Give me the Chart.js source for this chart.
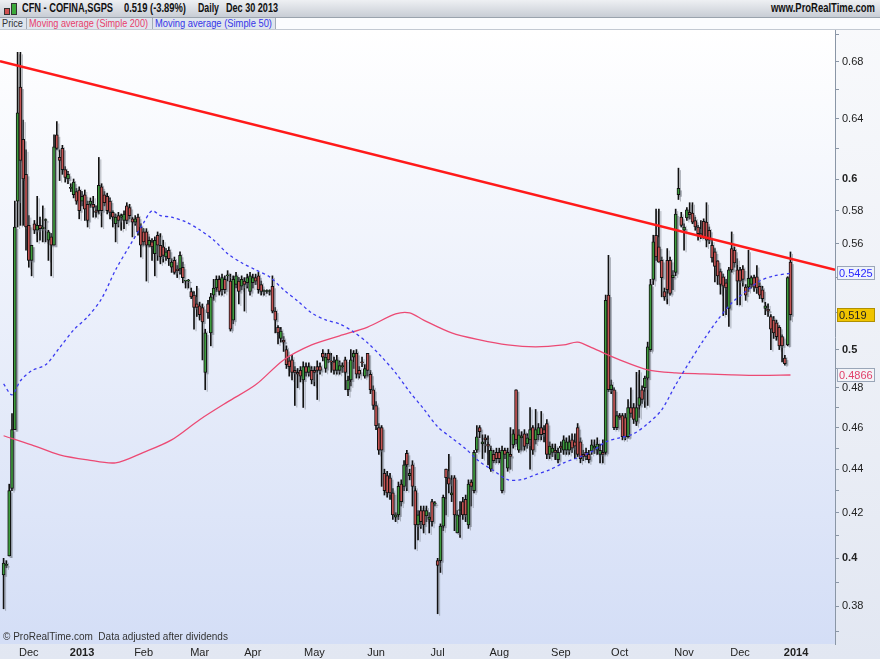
<!DOCTYPE html>
<html>
<head>
<meta charset="utf-8">
<script src="https://cdn.jsdelivr.net/npm/chart.js@4.4.0/dist/chart.umd.min.js"></script>
<style>
body { margin: 0; background: #fff; font-family: "Liberation Sans", Arial, sans-serif; }
#wrap { position: relative; width: 880px; height: 659px; background: linear-gradient(#f9fafc, #e2e7f2); overflow: hidden; }
#c { position: absolute; left: 0; top: 0; }
#hdr { position: absolute; left: 0; top: 0; width: 880px; height: 17px; background: linear-gradient(#eef0f3, #c8cdd5); border-bottom: 1px solid #9aa3ad; font-weight: bold; font-size: 12px; color: #111; line-height: 17px; white-space: nowrap; }
#hdr span { position: absolute; top: 0; transform-origin: 0 50%; }
.ic { position: absolute; border: 1px solid #333; }
#leg { position: absolute; left: 0; top: 18px; width: 880px; height: 11px; font-size: 11px; line-height: 11px; white-space: nowrap; background: #fbfcfe; border-bottom: 1px solid #c3c9d2; }
#leg div { position: absolute; top: 0; height: 11px; background: #dfe5ee; border-right: 1px solid #a3abb6; overflow: hidden; }
#leg span { position: absolute; left: 2px; top: 0; transform-origin: 0 50%; }
#foot { position: absolute; left: 3px; top: 631px; font-size: 10px; color: #333; white-space: nowrap; }
</style>
</head>
<body>
<div id="wrap">
  <canvas id="c" width="880" height="659"></canvas>
  <div id="hdr">
    <div class="ic" style="left:4px;top:8px;width:4px;height:5px;background:#d05050"></div>
    <div class="ic" style="left:11px;top:3px;width:4px;height:10px;background:#3caa3c"></div>
    <span data-w="91" style="left:22px">CFN - COFINA,SGPS</span>
    <span data-w="62" style="left:124px">0.519 (-3.89%)</span>
    <span data-w="21" style="left:198px">Daily</span>
    <span data-w="52" style="left:226px">Dec 30 2013</span>
    <span data-w="104" style="left:771px">www.ProRealTime.com</span>
  </div>
  <div id="leg">
    <div style="left:0;width:26px"><span data-w="21" style="color:#333">Price</span></div>
    <div style="left:27px;width:125px"><span data-w="119" style="color:#e8406a">Moving average (Simple 200)</span></div>
    <div style="left:153px;width:122px"><span data-w="117" style="color:#3535e8">Moving average (Simple 50)</span></div>
  </div>
  <div id="foot">© ProRealTime.com&nbsp; Data adjusted after dividends</div>
</div>
<script>
// daily candles, index 0 = about Nov 20 2012, last = Dec 30 2013
const opens = [
  0.393,0.397,0.401,0.431,0.459,0.586,0.662,0.626,0.603,0.571,
  0.550,0.572,0.568,0.571,0.569,0.574,0.562,0.564,0.559,0.629,
  0.614,0.620,0.606,0.600,0.594,0.590,0.592,0.593,0.586,0.590,
  0.584,0.584,0.584,0.580,0.580,0.595,0.590,0.589,0.586,0.579,
  0.572,0.577,0.576,0.574,0.583,0.582,0.575,0.573,0.576,0.570,
  0.567,0.567,0.559,0.561,0.554,0.565,0.559,0.558,0.552,0.556,
  0.546,0.550,0.545,0.545,0.546,0.538,0.538,0.532,0.530,0.525,
  0.524,0.523,0.488,0.525,0.509,0.530,0.534,0.539,0.533,0.539,
  0.541,0.538,0.516,0.536,0.538,0.535,0.538,0.537,0.532,0.537,
  0.540,0.541,0.536,0.532,0.532,0.532,0.535,0.521,0.512,0.506,
  0.505,0.500,0.494,0.4945,0.489,0.488,0.489,0.484,0.491,0.488,
  0.489,0.489,0.491,0.491,0.498,0.490,0.498,0.494,0.4935,0.489,
  0.489,0.491,0.4945,0.479,0.484,0.496,0.498,0.489,0.4935,0.486,
  0.498,0.487,0.479,0.471,0.460,0.460,0.438,0.437,0.436,0.429,
  0.418,0.419,0.433,0.432,0.4475,0.437,0.442,0.430,0.4145,0.421,
  0.421,0.4185,0.417,0.425,0.424,0.399,0.399,0.414,0.440,0.436,
  0.428,0.436,0.411,0.421,0.425,0.426,0.4145,0.434,0.430,0.449,
  0.460,0.452,0.455,0.452,0.440,0.447,0.448,0.448,0.430,0.449,
  0.4405,0.447,0.4516,0.479,0.449,0.455,0.457,0.452,0.454,0.460,
  0.454,0.4565,0.460,0.459,0.462,0.447,0.448,0.449,0.4445,0.451,
  0.449,0.449,0.449,0.454,0.453,0.460,0.453,0.447,0.448,0.447,
  0.4485,0.450,0.449,0.447,0.448,0.448,0.530,0.479,0.479,0.460,
  0.466,0.466,0.465,0.4555,0.470,0.470,0.463,0.471,0.479,0.480,
  0.485,0.500,0.539,0.565,0.558,0.550,0.532,0.550,0.550,0.540,
  0.543,0.590,0.576,0.568,0.5755,0.579,0.5786,0.574,0.570,0.566,
  0.5735,0.573,0.568,0.559,0.555,0.5497,0.5435,0.5405,0.537,0.5225,
  0.557,0.556,0.5445,0.5445,0.545,0.5345,0.5345,0.536,0.540,0.5405,
  0.535,0.533,0.5225,0.522,0.518,0.516,0.5145,0.512,0.507,0.4955,
  0.5025,0.549
];
const highs = [
  0.400,0.399,0.433,0.467,0.586,0.687,0.687,0.639,0.619,0.577,
  0.559,0.574,0.589,0.576,0.583,0.575,0.568,0.566,0.629,0.638,
  0.619,0.622,0.608,0.605,0.597,0.600,0.594,0.595,0.592,0.593,
  0.586,0.588,0.589,0.583,0.614,0.597,0.592,0.591,0.588,0.580,
  0.578,0.579,0.578,0.580,0.585,0.584,0.576,0.577,0.578,0.572,
  0.569,0.569,0.564,0.563,0.564,0.567,0.566,0.562,0.557,0.558,
  0.551,0.552,0.547,0.555,0.549,0.538,0.539,0.534,0.532,0.535,
  0.526,0.525,0.511,0.527,0.531,0.539,0.541,0.541,0.542,0.541,
  0.544,0.542,0.541,0.543,0.540,0.541,0.540,0.542,0.543,0.542,
  0.542,0.543,0.538,0.533,0.533,0.533,0.541,0.523,0.513,0.512,
  0.507,0.502,0.496,0.497,0.491,0.490,0.491,0.4935,0.493,0.493,
  0.491,0.491,0.494,0.493,0.500,0.498,0.500,0.498,0.496,0.497,
  0.494,0.493,0.496,0.486,0.500,0.4995,0.500,0.491,0.496,0.492,
  0.498,0.489,0.481,0.473,0.462,0.461,0.440,0.439,0.438,0.431,
  0.420,0.434,0.435,0.444,0.449,0.440,0.444,0.432,0.421,0.423,
  0.423,0.423,0.420,0.426,0.425,0.400,0.415,0.428,0.440,0.447,
  0.437,0.437,0.421,0.425,0.427,0.428,0.435,0.435,0.449,0.461,
  0.461,0.4565,0.4565,0.456,0.451,0.449,0.450,0.450,0.451,0.450,
  0.450,0.460,0.459,0.479,0.459,0.458,0.459,0.457,0.470,0.461,
  0.469,0.462,0.468,0.461,0.464,0.453,0.452,0.452,0.450,0.453,
  0.456,0.455,0.456,0.457,0.457,0.462,0.455,0.449,0.450,0.449,
  0.454,0.454,0.455,0.452,0.454,0.530,0.553,0.484,0.480,0.468,
  0.467,0.467,0.467,0.474,0.480,0.472,0.488,0.489,0.481,0.486,
  0.504,0.539,0.565,0.581,0.581,0.552,0.534,0.557,0.552,0.544,
  0.581,0.607,0.579,0.572,0.582,0.585,0.585,0.576,0.571,0.574,
  0.575,0.585,0.570,0.562,0.557,0.550,0.545,0.542,0.539,0.546,
  0.567,0.558,0.551,0.546,0.547,0.536,0.556,0.541,0.5415,0.547,
  0.537,0.535,0.526,0.525,0.519,0.518,0.516,0.513,0.508,0.497,
  0.5405,0.555
];
const lows = [
  0.379,0.396,0.401,0.430,0.459,0.570,0.571,0.571,0.556,0.546,
  0.541,0.566,0.561,0.562,0.561,0.561,0.550,0.541,0.559,0.619,
  0.599,0.603,0.598,0.597,0.592,0.588,0.584,0.575,0.583,0.574,
  0.570,0.582,0.576,0.576,0.578,0.570,0.583,0.578,0.575,0.570,
  0.561,0.570,0.568,0.569,0.572,0.575,0.564,0.571,0.565,0.552,
  0.559,0.538,0.558,0.550,0.541,0.550,0.548,0.549,0.550,0.547,
  0.543,0.542,0.540,0.542,0.537,0.534,0.534,0.528,0.511,0.518,
  0.516,0.4945,0.479,0.517,0.502,0.527,0.532,0.530,0.530,0.531,
  0.538,0.510,0.514,0.534,0.525,0.533,0.521,0.534,0.530,0.534,
  0.536,0.531,0.530,0.530,0.531,0.530,0.520,0.509,0.503,0.504,
  0.499,0.490,0.486,0.484,0.471,0.480,0.483,0.470,0.486,0.486,
  0.482,0.481,0.474,0.487,0.494,0.488,0.493,0.488,0.487,0.487,
  0.487,0.488,0.479,0.476,0.481,0.490,0.485,0.485,0.491,0.485,
  0.486,0.477,0.469,0.459,0.447,0.432,0.428,0.427,0.426,0.417,
  0.416,0.417,0.423,0.430,0.430,0.435,0.423,0.404,0.408,0.413,
  0.411,0.416,0.411,0.414,0.423,0.377,0.394,0.412,0.419,0.429,
  0.425,0.412,0.411,0.409,0.417,0.416,0.413,0.423,0.429,0.448,
  0.455,0.445,0.448,0.442,0.439,0.443,0.443,0.443,0.429,0.445,
  0.439,0.440,0.450,0.452,0.448,0.449,0.449,0.450,0.440,0.447,
  0.452,0.454,0.454,0.453,0.445,0.445,0.446,0.4445,0.443,0.448,
  0.447,0.447,0.447,0.448,0.445,0.446,0.443,0.444,0.4445,0.443,
  0.447,0.4475,0.447,0.443,0.443,0.447,0.478,0.477,0.459,0.459,
  0.464,0.454,0.454,0.455,0.465,0.462,0.461,0.465,0.472,0.470,
  0.471,0.499,0.536,0.550,0.549,0.529,0.527,0.525,0.530,0.533,
  0.541,0.587,0.570,0.556,0.574,0.575,0.572,0.568,0.562,0.563,
  0.563,0.558,0.560,0.549,0.5375,0.536,0.5305,0.5185,0.519,0.5125,
  0.543,0.546,0.5245,0.5245,0.535,0.527,0.532,0.534,0.532,0.531,
  0.528,0.526,0.519,0.518,0.500,0.506,0.505,0.500,0.4935,0.4918,
  0.502,0.516
];
const closes = [
  0.398,0.397,0.430,0.459,0.570,0.644,0.612,0.600,0.570,0.550,
  0.559,0.568,0.571,0.569,0.570,0.574,0.567,0.559,0.621,0.620,
  0.612,0.606,0.601,0.603,0.594,0.598,0.586,0.580,0.589,0.581,
  0.574,0.586,0.582,0.579,0.596,0.580,0.585,0.580,0.579,0.576,
  0.576,0.574,0.577,0.578,0.574,0.577,0.573,0.575,0.567,0.559,
  0.561,0.559,0.562,0.558,0.562,0.559,0.552,0.553,0.555,0.551,
  0.549,0.543,0.544,0.553,0.540,0.538,0.538,0.529,0.523,0.523,
  0.519,0.515,0.509,0.520,0.529,0.534,0.539,0.532,0.540,0.533,
  0.541,0.511,0.539,0.541,0.532,0.539,0.536,0.540,0.541,0.540,
  0.538,0.533,0.532,0.532,0.532,0.532,0.521,0.516,0.509,0.510,
  0.504,0.492,0.491,0.488,0.488,0.487,0.486,0.491,0.488,0.491,
  0.484,0.488,0.489,0.489,0.496,0.496,0.4945,0.4935,0.489,0.4945,
  0.4915,0.491,0.488,0.484,0.4945,0.498,0.487,0.487,0.493,0.490,
  0.489,0.479,0.471,0.461,0.449,0.449,0.430,0.429,0.429,0.419,
  0.419,0.432,0.425,0.442,0.442,0.438,0.432,0.4145,0.419,0.416,
  0.4145,0.421,0.418,0.416,0.424,0.397,0.414,0.427,0.436,0.433,
  0.429,0.419,0.419,0.421,0.419,0.419,0.433,0.432,0.448,0.4555,
  0.458,0.453,0.454,0.451,0.449,0.444,0.445,0.445,0.449,0.447,
  0.448,0.446,0.457,0.454,0.4565,0.456,0.4508,0.455,0.459,0.449,
  0.459,0.460,0.4565,0.457,0.447,0.451,0.450,0.448,0.448,0.450,
  0.454,0.453,0.453,0.450,0.451,0.447,0.445,0.446,0.446,0.4445,
  0.4516,0.451,0.452,0.449,0.447,0.527,0.479,0.4815,0.460,0.466,
  0.465,0.4555,0.4555,0.470,0.467,0.464,0.470,0.475,0.474,0.485,
  0.5015,0.536,0.561,0.552,0.549,0.540,0.529,0.533,0.531,0.5415,
  0.578,0.594,0.571,0.570,0.5805,0.5775,0.573,0.570,0.566,0.564,
  0.564,0.562,0.562,0.5515,0.5465,0.541,0.536,0.535,0.534,0.5445,
  0.5445,0.5485,0.538,0.538,0.539,0.530,0.5395,0.540,0.5345,0.534,
  0.530,0.528,0.524,0.521,0.511,0.509,0.507,0.502,0.502,0.4925,
  0.540,0.519
];

// moving averages at these candle indexes
const ma200Days = [0,10,20,30,40,50,60,70,80,90,100,110,120,130,140,145,150,160,170,180,190,200,205,210,220,230,240,250,260,270,281];
const ma200 = [0.456,0.4516,0.4468,0.4444,0.443,0.448,0.454,0.4639,0.4728,0.4815,0.4945,0.5025,0.5074,0.5122,0.5194,0.520,0.516,0.509,0.5052,0.5025,0.5015,0.5025,0.504,0.501,0.4945,0.4893,0.4877,0.4872,0.4867,0.4864,0.4866];
const ma50Days = [0,3,6,10,15,20,25,30,35,40,45,50,53,56,60,65,70,75,80,85,90,95,100,105,110,115,120,125,130,135,140,145,150,155,160,165,170,175,180,185,190,195,200,205,210,215,220,225,230,235,240,245,250,255,260,265,270,275,281];
const ma50 = [0.482,0.4764,0.4836,0.4888,0.4919,0.501,0.5106,0.5178,0.528,0.5445,0.5586,0.5725,0.580,0.577,0.576,0.5732,0.5683,0.5622,0.554,0.5486,0.5445,0.5404,0.533,0.5267,0.520,0.5161,0.5139,0.5095,0.5036,0.4961,0.4877,0.4779,0.4693,0.4604,0.455,0.4497,0.4435,0.4393,0.4351,0.4351,0.4374,0.4397,0.443,0.4454,0.4483,0.453,0.455,0.457,0.4619,0.4688,0.4815,0.4935,0.5052,0.5161,0.5255,0.532,0.538,0.541,0.5425];

// trend line drawn by hand on the original chart (edge to edge)
const trendDays = [-1.286, 296.9];
const trendVals = [0.6806, 0.5445];

const monthDays = [9, 28, 50, 70, 89, 111, 133, 155, 177, 199, 220, 243, 263, 283];
const monthLabels = ['Dec','2013','Feb','Mar','Apr','May','Jun','Jul','Aug','Sep','Oct','Nov','Dec','2014'];

const yTicks = [0.37,0.38,0.39,0.40,0.41,0.42,0.43,0.44,0.45,0.46,0.47,0.48,0.49,0.50,0.52,0.54,0.56,0.58,0.60,0.62,0.64,0.66,0.68,0.70];
const yLabelled = [0.38,0.40,0.42,0.44,0.46,0.48,0.50,0.56,0.58,0.60,0.64,0.68];
const yBold = [0.40,0.50,0.60];

const tagValues = [0.5425, 0.519, 0.4866];
const tagLabels = ['0.5425', '0.519', '0.4866'];

// squeeze header/legend texts to the widths they have in the original
document.querySelectorAll('span[data-w]').forEach(s => {
  const w = s.getBoundingClientRect().width;
  s.style.transform = 'scaleX(' + (Number(s.dataset.w) / w) + ')';
});

const wickData = highs.map((h, i) => ({ x: i, y: [lows[i], h] }));
const bodyData = opens.map((o, i) => ({ x: i, y: [o, closes[i]] }));
const bodyColors = opens.map((o, i) => closes[i] >= o ? '#3d9b3d' : '#c45454');

const bgPlugin = {
  id: 'bg',
  beforeDraw(chart) {
    const { ctx, chartArea: a } = chart;
    const g = ctx.createLinearGradient(0, a.top, 0, a.bottom);
    g.addColorStop(0, '#ffffff');
    g.addColorStop(1, '#d4def6');
    ctx.fillStyle = g;
    ctx.fillRect(a.left, a.top, a.right - a.left, a.bottom - a.top);
  }
};

const shadowPlugin = {
  id: 'shadow',
  beforeDatasetDraw(chart, args) {
    const ds = chart.data.datasets[args.index];
    if (!ds.shadow) return;
    const { ctx, chartArea: a } = chart;
    ctx.save();
    ctx.beginPath();
    ctx.rect(a.left, a.top, a.right - a.left, a.bottom - a.top);
    ctx.clip();
    ctx.fillStyle = 'rgba(110,115,125,0.5)';
    args.meta.data.forEach(el => {
      const top = Math.min(el.y, el.base);
      const h = Math.max(1, Math.abs(el.base - el.y));
      ctx.fillRect(el.x - el.width / 2 + 2, top + 2, el.width, h);
    });
    ctx.restore();
  }
};

const tagPlugin = {
  id: 'tags',
  afterDraw(chart) {
    const { ctx } = chart;
    const ys = chart.scales.y;
    const fills = ['#eef2fb', '#f0c400', '#f3f4f8'];
    const borders = ['#9aa6b8', '#b09000', '#9aa6b8'];
    const texts = ['#2a2aff', '#222', '#e0406a'];
    ctx.save();
    ctx.font = '11px "Liberation Sans", Arial';
    ctx.textBaseline = 'middle';
    tagValues.forEach((v, k) => {
      const y = Math.round(ys.getPixelForValue(v));
      ctx.fillStyle = fills[k];
      ctx.fillRect(837, y - 7, 38, 14);
      ctx.strokeStyle = borders[k];
      ctx.strokeRect(837.5, y - 6.5, 37, 13);
      ctx.fillStyle = texts[k];
      ctx.fillText(tagLabels[k], 839, y + 0.5);
    });
    ctx.restore();
  }
};

new Chart(document.getElementById('c'), {
  type: 'bar',
  data: {
    datasets: [
      {
        type: 'line', label: 'trend', order: 1,
        data: trendDays.map((d, k) => ({ x: d, y: trendVals[k] })),
        borderColor: '#ff1a1a', borderWidth: 2.5, pointRadius: 0
      },
      {
        type: 'line', label: 'Moving average (Simple 50)', order: 2,
        data: ma50Days.map((d, k) => ({ x: d, y: ma50[k] })),
        borderColor: '#3a3af0', borderWidth: 1.3, borderDash: [3, 3], pointRadius: 0, tension: 0.3
      },
      {
        type: 'line', label: 'Moving average (Simple 200)', order: 3,
        data: ma200Days.map((d, k) => ({ x: d, y: ma200[k] })),
        borderColor: '#ec4a74', borderWidth: 1.3, pointRadius: 0, tension: 0.3
      },
      {
        label: 'body', order: 4, shadow: true,
        data: bodyData,
        backgroundColor: bodyColors, borderColor: '#111', borderWidth: 1, borderSkipped: false,
        barThickness: 3, minBarLength: 1, grouped: false
      },
      {
        label: 'wick', order: 5, shadow: true,
        data: wickData,
        backgroundColor: '#111', barThickness: 1, grouped: false
      }
    ]
  },
  options: {
    responsive: false,
    animation: false,
    layout: { padding: { top: 30, left: 0, right: 0, bottom: 0 } },
    plugins: { legend: { display: false }, tooltip: { enabled: false } },
    scales: {
      x: {
        type: 'linear', min: -1.286, max: 296.9, offset: false,
        grid: { display: false, drawTicks: false, tickLength: 0 },
        border: { display: false },
        afterBuildTicks: s => { s.ticks = monthDays.map(v => ({ value: v })); },
        afterFit: s => { s.height = 15; },
        ticks: {
          autoSkip: false, maxRotation: 0, padding: 2, color: '#222',
          font: c => ({ size: 11, family: '"Liberation Sans", Arial', weight: (c.index === 1 || c.index === 13) ? 'bold' : 'normal' }),
          callback: v => monthLabels[monthDays.indexOf(v)] ?? ''
        }
      },
      y: {
        type: 'logarithmic', position: 'right', min: 0.3650, max: 0.7036,
        grid: { drawOnChartArea: false, color: '#8a96a6', tickLength: 4 },
        border: { color: '#8a96a6' },
        afterBuildTicks: s => { s.ticks = yTicks.map(v => ({ value: v })); },
        afterFit: s => { s.width = 45; },
        ticks: {
          autoSkip: false, padding: 3, color: '#222',
          font: c => ({ size: 11, family: '"Liberation Sans", Arial', weight: (c.tick && yBold.includes(c.tick.value)) ? 'bold' : 'normal' }),
          callback: v => yLabelled.includes(v) ? String(v) : ''
        }
      }
    }
  },
  plugins: [bgPlugin, shadowPlugin, tagPlugin]
});
</script>
</body>
</html>
